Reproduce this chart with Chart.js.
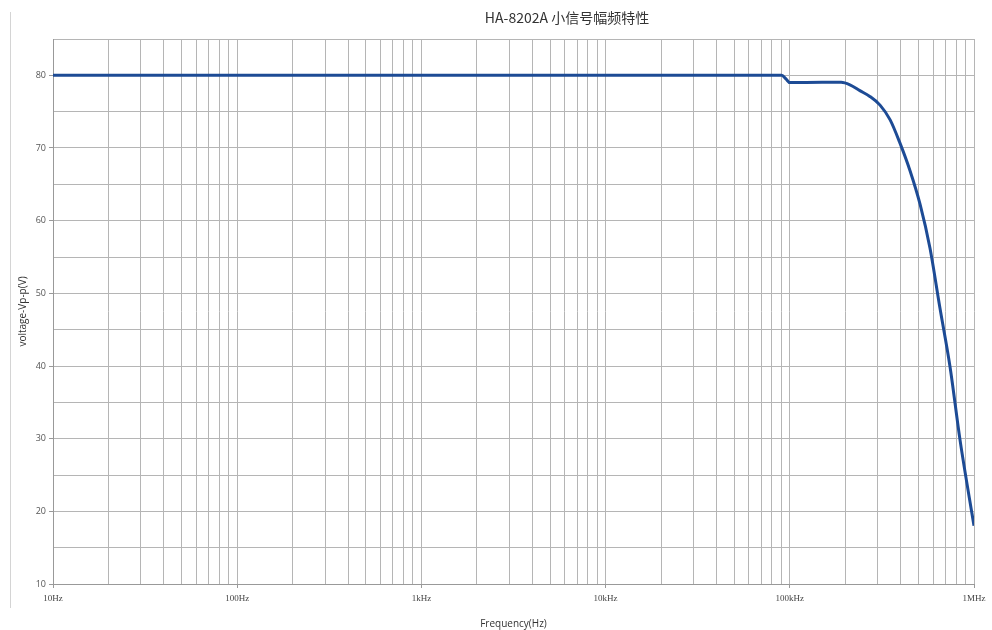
<!DOCTYPE html>
<html>
<head>
<meta charset="utf-8">
<script src="https://cdn.jsdelivr.net/npm/chart.js@4"></script>
<style>
  html, body { margin: 0; padding: 0; background: #fff; }
  #wrap { width: 992px; height: 630px; position: relative; }
</style>
</head>
<body>
<div id="wrap"><canvas id="c" width="992" height="630"></canvas></div>
<script>
// ---- data ----
const titleText = "HA-8202A 小信号幅频特性";
const xAxisTitle = "Frequency(Hz)";
const yAxisTitle = "voltage-Vp-p(V)";

const frequencies = [10, 1000, 10000, 50000, 90400, 95300, 100000, 150000, 190000, 212000, 240000, 272000, 309000, 350000, 396000, 449000, 509000, 577000, 653000, 741000, 840000, 1000000];
const voltages    = [80, 80,   80,    80,    80,    79.5,  79.0,   79.05,  79.05,  78.7,   77.9,   77.1,   75.9,   73.9,   70.7,   66.9,   62.3,   56.2,   48.0,   39.9,   29.8,   18.0];

const decadeValues = [10, 100, 1000, 10000, 100000, 1000000];
const decadeLabels = ["10Hz", "100Hz", "1kHz", "10kHz", "100kHz", "1MHz"];
const multipliers  = [1, 2, 3, 4, 5, 6, 7, 8, 9];

const yMin = 10, yMax = 85, yStep = 5;
const yLabelStep = 10;

// build x tick values (1..9 per decade)
const xTickValues = [];
decadeValues.forEach(function (d, i) {
  if (i === decadeValues.length - 1) { xTickValues.push(d); return; }
  multipliers.forEach(function (m) { xTickValues.push(d * m); });
});

const points = frequencies.map(function (f, i) { return { x: f, y: voltages[i] }; });

const isDecade = function (v) { return decadeValues.indexOf(v) >= 0; };

const framePlugin = {
  id: 'frame',
  beforeDraw(chart) {
    const ctx = chart.ctx;
    ctx.save();
    ctx.strokeStyle = '#d4d4d4';
    ctx.lineWidth = 1;
    ctx.beginPath();
    ctx.moveTo(10.5, 12);
    ctx.lineTo(10.5, 608);
    ctx.stroke();
    ctx.restore();
  },
  afterDraw(chart) {
    const ctx = chart.ctx;
    ctx.save();
    ctx.fillStyle = '#333';
    ctx.font = '14px "Noto Sans CJK SC", "Noto Sans", sans-serif';
    ctx.textAlign = 'center';
    ctx.textBaseline = 'middle';
    ctx.fillText(titleText, 567, 18);
    ctx.restore();
  }
};

new Chart(document.getElementById('c'), {
  type: 'line',
  data: {
    datasets: [{
      data: points,
      borderColor: '#1d4b95',
      borderWidth: 3,
      pointRadius: 0,
      fill: false,
      cubicInterpolationMode: 'monotone'
    }]
  },
  options: {
    responsive: false,
    animation: false,
    devicePixelRatio: 1,
    layout: { padding: { top: 39, right: 18, bottom: 0, left: 17 } },
    plugins: {
      legend: { display: false },
      title: { display: false },
      tooltip: { enabled: false }
    },
    scales: {
      x: {
        type: 'logarithmic',
        min: 10,
        max: 1000000,
        afterBuildTicks: function (scale) {
          scale.ticks = xTickValues.map(function (v) { return { value: v }; });
        },
        afterFit: function (scale) { scale.height = 46; },
        grid: {
          color: '#b5b5b5',
          lineWidth: 1,
          drawTicks: true,
          tickLength: 4,
          tickColor: function (ctx) { return ctx.tick && isDecade(ctx.tick.value) ? '#999' : 'rgba(0,0,0,0)'; }
        },
        border: { color: '#999' },
        ticks: {
          autoSkip: false,
          maxRotation: 0,
          padding: 5,
          color: '#444',
          font: { size: 9, family: '"Liberation Serif", serif' },
          callback: function (value) {
            const i = decadeValues.indexOf(value);
            return i >= 0 ? decadeLabels[i] : '';
          }
        },
        title: {
          display: true,
          text: xAxisTitle,
          color: '#333',
          padding: { top: 0, bottom: 0 },
          font: { size: 10, family: '"Open Sans", sans-serif' }
        }
      },
      y: {
        min: yMin,
        max: yMax,
        afterFit: function (scale) { scale.width = 36; },
        grid: {
          color: '#b5b5b5',
          lineWidth: 1,
          tickLength: 4,
          tickColor: function (ctx) { return ctx.tick && ctx.tick.value % yLabelStep === 0 ? '#999' : 'rgba(0,0,0,0)'; }
        },
        border: { color: '#999' },
        ticks: {
          stepSize: yStep,
          padding: 3,
          color: '#555',
          font: { size: 9, family: '"Open Sans", sans-serif' },
          callback: function (value) { return value % yLabelStep === 0 ? String(value) : ''; }
        },
        title: {
          display: true,
          text: yAxisTitle,
          color: '#333',
          padding: { top: 0, bottom: 0 },
          font: { size: 10, family: '"Open Sans", sans-serif' }
        }
      }
    }
  },
  plugins: [framePlugin]
});
</script>
</body>
</html>
